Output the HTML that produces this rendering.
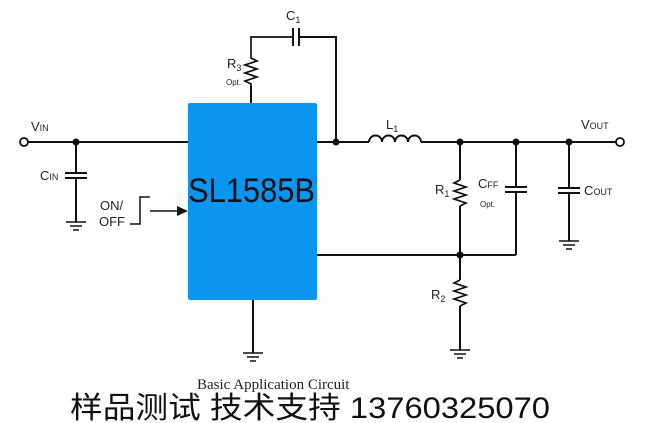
<!DOCTYPE html>
<html><head><meta charset="utf-8"><style>
html,body{margin:0;padding:0;background:#fff;width:664px;height:423px;overflow:hidden}
svg{display:block}
text{font-family:"Liberation Sans",sans-serif;fill:#222}
</style></head><body>
<svg width="664" height="423" viewBox="0 0 664 423" xmlns="http://www.w3.org/2000/svg">
<g stroke="#111" stroke-width="2" fill="none">
<!-- main input line -->
<line x1="28" y1="142" x2="188" y2="142"/>
<circle cx="24" cy="142" r="4" fill="#fff" stroke-width="1.8"/>
<!-- CIN -->
<line x1="76" y1="142" x2="76" y2="173"/>
<line x1="65" y1="173" x2="87" y2="173"/>
<line x1="65" y1="178" x2="87" y2="178"/>
<line x1="76" y1="178" x2="76" y2="222"/>
<line x1="66" y1="222" x2="86" y2="222" stroke-width="1.5"/>
<line x1="70" y1="226" x2="82" y2="226" stroke-width="1.5"/>
<line x1="73" y1="230" x2="79" y2="230" stroke-width="1.5"/>
<!-- ON/OFF step -->
<polyline points="130,224 140,224 140,197 150,197" stroke-width="1.5"/>
<line x1="150" y1="211" x2="178" y2="211" stroke-width="1.5"/>
<!-- R3 and C1 -->
<line x1="251" y1="103" x2="251" y2="86"/>
<polyline points="251,86 251,84 245,81 257,77 245,73 257,69 245,65 257,61 251,58 251,37 292,37" stroke-width="1.7"/>
<line x1="293" y1="28" x2="293" y2="46"/>
<line x1="299" y1="28" x2="299" y2="46"/>
<polyline points="299,37 336,37 336,142"/>
<!-- output line -->
<line x1="317" y1="142" x2="369" y2="142"/>
<path d="M369,142 a6.5,6.5 0 0 1 13,0 a6.5,6.5 0 0 1 13,0 a6.5,6.5 0 0 1 13,0 a6.5,6.5 0 0 1 13,0"/>
<line x1="421" y1="142" x2="616" y2="142"/>
<circle cx="620" cy="142" r="4" fill="#fff" stroke-width="1.8"/>
<!-- R1 -->
<line x1="460" y1="142" x2="460" y2="180"/>
<polyline points="460,180 454,183 466,187 454,191 466,195 454,199 466,203 460,206" stroke-width="1.7"/>
<line x1="460" y1="206" x2="460" y2="280"/>
<!-- FB line -->
<line x1="317" y1="255" x2="516" y2="255"/>
<!-- CFF -->
<line x1="516" y1="142" x2="516" y2="187"/>
<line x1="505" y1="187" x2="527" y2="187"/>
<line x1="505" y1="192" x2="527" y2="192"/>
<line x1="516" y1="192" x2="516" y2="255"/>
<!-- COUT -->
<line x1="569" y1="142" x2="569" y2="188"/>
<line x1="558" y1="188" x2="580" y2="188"/>
<line x1="558" y1="193" x2="580" y2="193"/>
<line x1="569" y1="193" x2="569" y2="241"/>
<line x1="559" y1="241" x2="579" y2="241" stroke-width="1.5"/>
<line x1="563" y1="245" x2="575" y2="245" stroke-width="1.5"/>
<line x1="566" y1="249" x2="572" y2="249" stroke-width="1.5"/>
<!-- R2 -->
<polyline points="460,280 454,283 466,287 454,291 466,295 454,299 466,303 460,306" stroke-width="1.7"/>
<line x1="460" y1="306" x2="460" y2="350"/>
<line x1="450" y1="350" x2="470" y2="350" stroke-width="1.5"/>
<line x1="454" y1="354" x2="466" y2="354" stroke-width="1.5"/>
<line x1="457" y1="358" x2="463" y2="358" stroke-width="1.5"/>
<!-- chip ground -->
<line x1="253" y1="300" x2="253" y2="353"/>
<line x1="243" y1="353" x2="263" y2="353" stroke-width="1.5"/>
<line x1="247" y1="357" x2="259" y2="357" stroke-width="1.5"/>
<line x1="250" y1="361" x2="256" y2="361" stroke-width="1.5"/>
</g>
<polygon points="188,211 177,206 177,216" fill="#111"/>
<g fill="#111">
<circle cx="76" cy="142" r="3.5"/>
<circle cx="336" cy="142" r="3.5"/>
<circle cx="460" cy="142" r="3.5"/>
<circle cx="516" cy="142" r="3.5"/>
<circle cx="569" cy="142" r="3.5"/>
<circle cx="460" cy="255" r="3.5"/>
</g>
<rect x="188" y="103" width="129" height="197" rx="2" fill="#0a95f0"/>
<text x="188" y="202" font-size="34" textLength="127" lengthAdjust="spacingAndGlyphs" style="fill:#111">SL1585B</text>
<!-- labels -->
<text x="31" y="131" font-size="13">V<tspan font-size="9">IN</tspan></text>
<text x="40" y="180" font-size="13">C<tspan font-size="9">IN</tspan></text>
<text x="100" y="210" font-size="13">ON/</text>
<text x="99" y="226" font-size="13">OFF</text>
<text x="286" y="20" font-size="13">C<tspan font-size="9" dy="3">1</tspan></text>
<text x="227" y="68" font-size="13">R<tspan font-size="9" dy="3">3</tspan></text>
<text x="226" y="85" font-size="8">Opt.</text>
<text x="386" y="129" font-size="13">L<tspan font-size="9" dy="3">1</tspan></text>
<text x="581" y="129" font-size="13">V<tspan font-size="9">OUT</tspan></text>
<text x="435" y="194" font-size="13">R<tspan font-size="9" dy="3">1</tspan></text>
<text x="478" y="188" font-size="13">C<tspan font-size="9">FF</tspan></text>
<text x="480" y="207" font-size="8">Opt.</text>
<text x="584" y="195" font-size="13">C<tspan font-size="9">OUT</tspan></text>
<text x="431" y="299" font-size="13">R<tspan font-size="9" dy="3">2</tspan></text>
<text x="197" y="389" font-size="15" style="font-family:'Liberation Serif',serif;fill:#222">Basic Application Circuit</text>
<text x="70" y="418" font-size="30" textLength="480" lengthAdjust="spacingAndGlyphs" style="font-family:'Liberation Sans','Noto Sans CJK SC',sans-serif;fill:#111">样品测试 技术支持 13760325070</text>
</svg>
</body></html>
